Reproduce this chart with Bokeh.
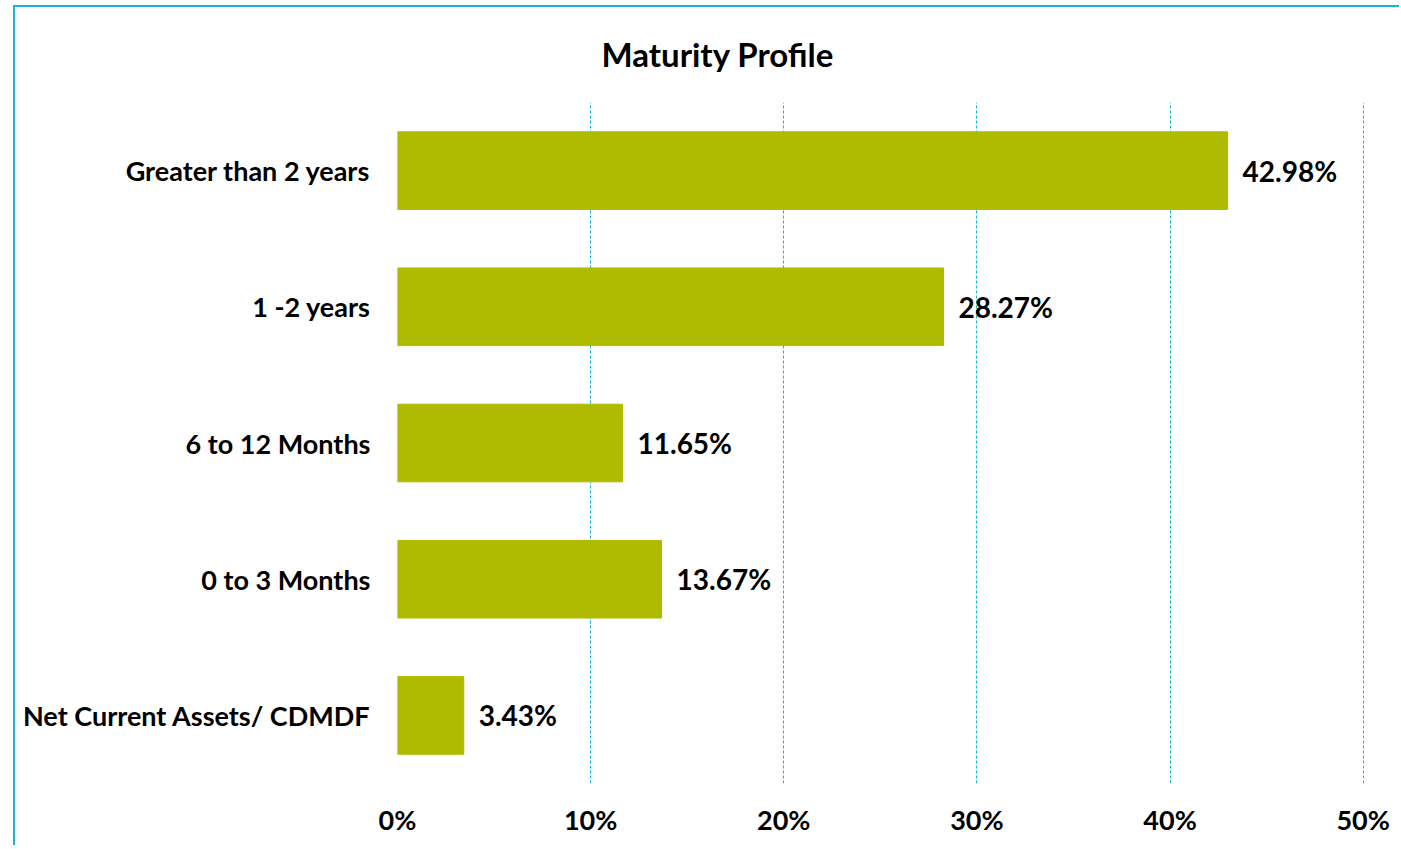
from bokeh.plotting import figure
from bokeh.models import ColumnDataSource, FactorRange, Range1d, FixedTicker, LabelSet, Title
from bokeh.core.properties import value
from bokeh.embed import file_html
from bokeh.resources import INLINE

categories = ["Greater than 2 years", "1 -2 years", "6 to 12 Months", "0 to 3 Months", "Net Current Assets/ CDMDF"]
values = [42.98, 28.27, 11.65, 13.67, 3.43]
value_labels = ["42.98%", "28.27%", "11.65%", "13.67%", "3.43%"]
x_ticks = [0, 10, 20, 30, 40, 50]
x_tick_labels = ["0%", "10%", "20%", "30%", "40%", "50%"]
title_text = "Maturity Profile"

FONT = "Lato"
CYAN = "#1CB5D1"
GRID = "#14B2D4"
BAR = "#AEBB00"
TXT = "#000000"

src = ColumnDataSource(dict(cat=categories, val=values, lbl=value_labels))

p = figure(width=1386, height=840,
           y_range=FactorRange(*reversed(categories)),
           x_range=Range1d(0, 51),
           output_backend="svg", toolbar_location=None,
           min_border_left=382, min_border_right=19,
           min_border_top=95, min_border_bottom=64,
           styles={"border-left": "2px solid " + CYAN, "border-top": "2px solid " + CYAN,
                   "margin-left": "13px", "margin-top": "5px"})

p.title = Title(text=title_text, align="left", offset=204, vertical_align="top",
                text_font=FONT, text_font_size="33px", text_font_style="bold",
                text_color=TXT, standoff=53)

p.hbar(y="cat", right="val", left=0, height=0.57, source=src, color=BAR)

labels = LabelSet(x="val", y="cat", text="lbl", source=src, x_offset=15,
                  text_baseline="middle", text_align="left",
                  text_font=value(FONT), text_font_size="28px",
                  text_font_style="bold", text_color=TXT)
p.add_layout(labels)

p.outline_line_color = None
p.ygrid.grid_line_color = None
p.xgrid.ticker = FixedTicker(ticks=[10, 20, 30, 40, 50])
p.xgrid.grid_line_color = GRID
p.xgrid.grid_line_dash = "3 2"
p.xgrid.grid_line_width = 1

p.xaxis.ticker = FixedTicker(ticks=x_ticks)
p.xaxis.major_label_overrides = dict(zip(x_ticks, x_tick_labels))
for ax in (p.xaxis, p.yaxis):
    ax.axis_line_color = None
    ax.major_tick_line_color = None
    ax.minor_tick_line_color = None
    ax.major_tick_in = 0
    ax.major_tick_out = 0
    ax.major_label_text_font = FONT
    ax.major_label_text_font_size = "27px"
    ax.major_label_text_font_style = "bold"
    ax.major_label_text_color = TXT
p.yaxis.major_label_standoff = 27
p.xaxis.major_label_standoff = 19

open("out.html", "w").write(file_html(p, INLINE))
